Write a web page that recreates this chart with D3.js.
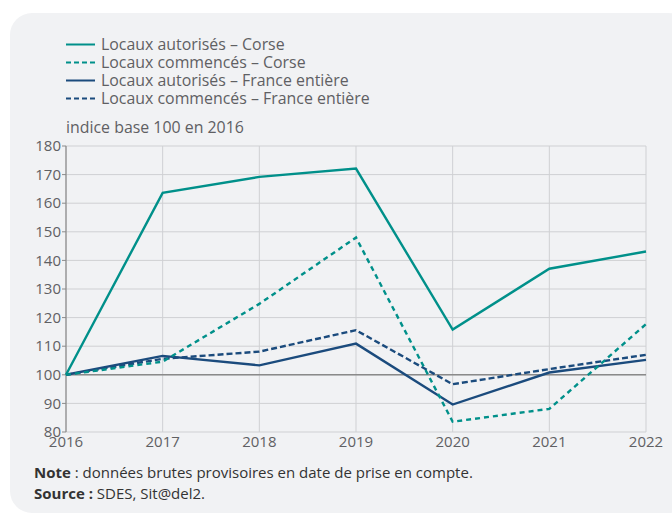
<!DOCTYPE html>
<html><head><meta charset="utf-8">
<script src="https://cdn.jsdelivr.net/npm/d3@7"></script>
<style>
html,body{margin:0;padding:0;background:#fff;}
svg{display:block;font-family:"Open Sans",sans-serif;}
</style></head>
<body><svg id="c" width="672" height="515"></svg>
<script>
const years = [2016, 2017, 2018, 2019, 2020, 2021, 2022];
const corseAutorises = [100, 163.6, 169.2, 172.1, 115.8, 137.1, 143.1];
const corseCommences = [100, 104.6, 124.8, 148.0, 83.6, 88.1, 117.7];
const franceAutorises = [100, 106.6, 103.3, 110.9, 89.6, 100.8, 105.2];
const franceCommences = [100, 105.6, 108.1, 115.6, 96.7, 102.0, 107.0];
const yTicks = [80, 90, 100, 110, 120, 130, 140, 150, 160, 170, 180];
const seriesNames = ["Locaux autorisés – Corse", "Locaux commencés – Corse", "Locaux autorisés – France entière", "Locaux commencés – France entière"];

const teal = "#00908a", navy = "#1b4b7d";
const series = [
  {name: seriesNames[0], values: corseAutorises, color: teal, dash: null},
  {name: seriesNames[1], values: corseCommences, color: teal, dash: "5,4"},
  {name: seriesNames[2], values: franceAutorises, color: navy, dash: null},
  {name: seriesNames[3], values: franceCommences, color: navy, dash: "6,3"}
];

const svg = d3.select("#c");
svg.append("rect").attr("x", 10).attr("y", 13).attr("width", 680).attr("height", 500)
  .attr("rx", 22).attr("fill", "#f1f2f4");

const x = d3.scaleLinear().domain([2016, 2022]).range([66, 646]);
const y = d3.scaleLinear().domain([80, 180]).range([432, 146]);

const g = svg.append("g");
g.selectAll(".hg").data(yTicks).join("line")
  .attr("x1", 66).attr("x2", 646).attr("y1", d => y(d)).attr("y2", d => y(d))
  .attr("stroke", "#cfd0d3").attr("stroke-width", 1);
g.selectAll(".vg").data(years).join("line")
  .attr("x1", d => x(d)).attr("x2", d => x(d)).attr("y1", y(180)).attr("y2", y(80))
  .attr("stroke", "#cfd0d3").attr("stroke-width", 1);
g.append("line").attr("x1", 66).attr("x2", 66).attr("y1", y(180)).attr("y2", y(80))
  .attr("stroke", "#8a8a8a").attr("stroke-width", 1.2);
g.selectAll(".yt").data(yTicks).join("line")
  .attr("x1", 62).attr("x2", 66).attr("y1", d => y(d)).attr("y2", d => y(d))
  .attr("stroke", "#8a8a8a");
g.selectAll(".yl").data(yTicks).join("text")
  .attr("x", 61).attr("y", d => y(d)).attr("dy", "0.35em").attr("text-anchor", "end")
  .attr("font-size", 15).attr("fill", "#5f6063").text(d => d);
g.selectAll(".xl").data(years).join("text")
  .attr("x", d => x(d)).attr("y", 447).attr("text-anchor", "middle")
  .attr("font-size", 15).attr("fill", "#5f6063").text(d => d);
g.append("line").attr("x1", 66).attr("x2", 646).attr("y1", y(100)).attr("y2", y(100))
  .attr("stroke", "#8a8a8a").attr("stroke-width", 1.6);

const line = d3.line().x((d, i) => x(years[i])).y(d => y(d));
[series[3], series[2], series[1], series[0]].forEach(s => {
  g.append("path").attr("d", line(s.values)).attr("fill", "none")
    .attr("stroke", s.color).attr("stroke-width", 2.4)
    .attr("stroke-dasharray", s.dash).attr("stroke-linejoin", "miter");
});

const lg = svg.append("g");
series.forEach((s, i) => {
  const yy = 44.5 + i * 18;
  lg.append("line").attr("x1", 66).attr("x2", 95).attr("y1", yy).attr("y2", yy)
    .attr("stroke", s.color).attr("stroke-width", 2)
    .attr("stroke-dasharray", s.dash ? "5,3" : null);
  lg.append("text").attr("x", 101).attr("y", yy).attr("dy", "0.35em")
    .attr("font-size", 15.9).attr("fill", "#5f6063").text(s.name);
});
svg.append("text").attr("x", 66).attr("y", 127.5).attr("dy", "0.35em")
  .attr("font-size", 15.9).attr("fill", "#5f6063").text("indice base 100 en 2016");

const note = svg.append("text").attr("x", 34).attr("y", 478).attr("font-size", 15).attr("fill", "#333");
note.append("tspan").attr("font-weight", "bold").text("Note");
note.append("tspan").text(" : données brutes provisoires en date de prise en compte.");
const src = svg.append("text").attr("x", 34).attr("y", 499).attr("font-size", 15).attr("fill", "#333");
src.append("tspan").attr("font-weight", "bold").text("Source :");
src.append("tspan").text(" SDES, Sit@del2.");
</script></body></html>
